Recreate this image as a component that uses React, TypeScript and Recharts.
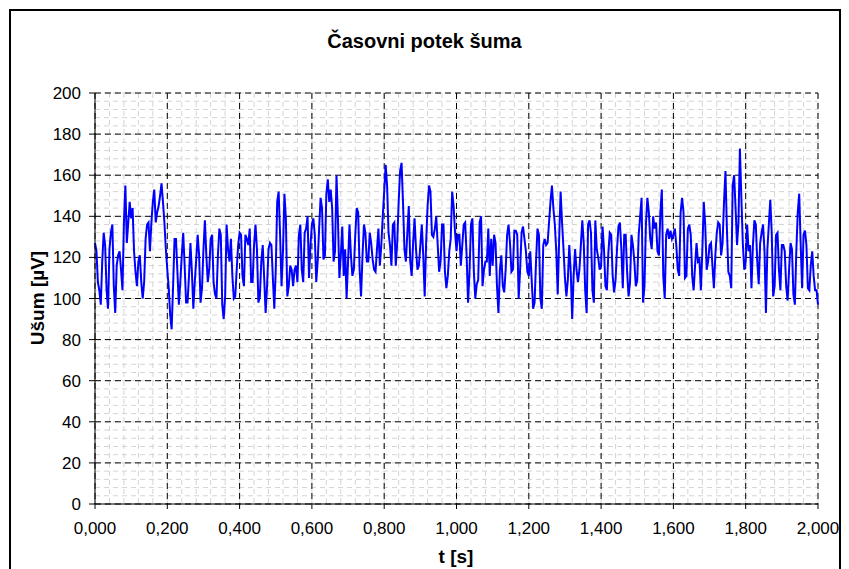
import { LineChart, Line, XAxis, YAxis, CartesianGrid } from 'recharts'

// noise samples in µV, one every SAMPLE_STEP seconds (0 .. 2 s)
const SAMPLE_STEP = 0.004
const NOISE_UV = [
  127, 123, 108, 104, 97, 118, 132, 126, 104, 95, 124, 132, 136, 106, 93, 116, 121, 123, 114, 104, 137, 155, 127, 137, 147, 139, 144, 123,
  113, 106, 118, 121, 108, 100, 108, 129, 136, 137, 123, 137, 147, 153, 137, 142, 145, 150, 156, 147, 137, 124, 114, 105, 92, 85, 106, 129,
  129, 113, 97, 108, 121, 132, 116, 98, 98, 111, 127, 113, 95, 108, 119, 131, 121, 98, 105, 124, 138, 121, 108, 114, 129, 131, 108, 102,
  100, 121, 134, 131, 97, 90, 101, 136, 124, 118, 129, 111, 100, 101, 114, 126, 132, 131, 111, 106, 131, 129, 126, 134, 108, 108, 126, 136,
  124, 98, 101, 118, 126, 110, 93, 106, 124, 127, 126, 110, 95, 114, 147, 152, 131, 106, 123, 151, 139, 101, 106, 116, 114, 106, 114, 116,
  108, 131, 136, 114, 108, 132, 134, 140, 110, 126, 136, 139, 131, 108, 118, 134, 149, 144, 119, 121, 151, 158, 147, 153, 144, 118, 123, 160,
  139, 110, 121, 135, 111, 124, 100, 118, 136, 121, 111, 114, 131, 144, 142, 114, 101, 121, 136, 132, 118, 118, 132, 127, 119, 114, 113, 124,
  134, 116, 126, 140, 152, 165, 155, 132, 126, 116, 136, 137, 116, 127, 147, 162, 166, 147, 124, 118, 132, 145, 118, 111, 127, 139, 124, 114,
  116, 126, 136, 121, 101, 127, 145, 155, 152, 131, 130, 134, 140, 126, 113, 118, 136, 136, 113, 105, 111, 123, 129, 152, 145, 132, 123, 131,
  131, 116, 126, 136, 137, 121, 98, 113, 136, 139, 113, 100, 107, 109, 137, 140, 106, 114, 118, 118, 134, 111, 129, 116, 131, 127, 106, 93,
  114, 121, 106, 103, 114, 131, 136, 127, 113, 114, 133, 133, 131, 100, 114, 132, 135, 129, 123, 113, 111, 123, 109, 95, 98, 118, 134, 131,
  100, 95, 126, 129, 126, 127, 137, 147, 155, 144, 136, 123, 102, 129, 152, 137, 124, 110, 101, 109, 126, 113, 90, 111, 124, 114, 108, 114,
  126, 138, 127, 104, 93, 136, 138, 132, 104, 98, 138, 124, 120, 114, 116, 135, 124, 106, 104, 122, 132, 131, 111, 103, 109, 124, 135, 137,
  124, 105, 131, 131, 113, 101, 108, 131, 126, 118, 106, 109, 131, 140, 149, 98, 106, 136, 149, 142, 129, 124, 140, 134, 137, 123, 121, 142,
  153, 111, 100, 131, 134, 129, 133, 129, 131, 134, 126, 114, 111, 142, 149, 142, 110, 111, 134, 136, 131, 111, 104, 116, 127, 118, 119, 104,
  123, 147, 136, 114, 118, 126, 127, 116, 105, 121, 132, 137, 136, 121, 127, 147, 162, 134, 113, 111, 105, 155, 160, 144, 126, 137, 173, 149,
  127, 114, 118, 136, 123, 126, 105, 126, 138, 136, 118, 107, 127, 132, 136, 123, 93, 124, 136, 148, 132, 101, 106, 131, 132, 114, 104, 126,
  126, 123, 106, 99, 114, 127, 124, 102, 97, 123, 142, 151, 127, 105, 131, 133, 126, 105, 104, 116, 123, 111, 104, 104, 97,
]

const X_TICKS = [0, 0.2, 0.4, 0.6, 0.8, 1.0, 1.2, 1.4, 1.6, 1.8, 2.0]
const X_TICK_LABELS = ['0,000', '0,200', '0,400', '0,600', '0,800', '1,000', '1,200', '1,400', '1,600', '1,800', '2,000']
const Y_TICKS = [0, 20, 40, 60, 80, 100, 120, 140, 160, 180, 200]

const TITLE = 'Časovni potek šuma'
const X_LABEL = 't [s]'
const Y_LABEL = 'Ušum [µV]'

const FONT = 'Arial, "Liberation Sans", sans-serif'

const data = NOISE_UV.map((u, i) => ({ t: +(i * SAMPLE_STEP).toFixed(3), u }))

// minor gridlines: 5 per major step
const xMinor: number[] = []
for (let i = 0; i <= 50; i++) xMinor.push(+(i * 0.04).toFixed(2))
const yMinor: number[] = []
for (let i = 0; i <= 50; i++) yMinor.push(i * 4)

const tickStyle = { fontSize: 17, fill: '#000', fontFamily: FONT }

export default function App() {
  return (
    <div style={{ position: 'absolute', left: 0, top: 0, width: 849, height: 569, overflow: 'hidden', background: '#fff' }}>
      {/* chart area frame */}
      <div
        style={{
          position: 'absolute',
          left: 9,
          top: 9,
          width: 828,
          height: 600,
          border: '2px solid #000',
        }}
      />
      <div
        style={{
          position: 'absolute',
          left: 0,
          width: 849,
          top: 30,
          textAlign: 'center',
          fontFamily: FONT,
          fontWeight: 'bold',
          fontSize: 20,
          color: '#000',
        }}
      >
        {TITLE}
      </div>
      <div
        style={{
          position: 'absolute',
          left: 38,
          top: 298,
          transform: 'translate(-50%, -50%) rotate(-90deg)',
          fontFamily: FONT,
          fontWeight: 'bold',
          fontSize: 19,
          whiteSpace: 'nowrap',
          color: '#000',
        }}
      >
        {Y_LABEL}
      </div>
      <div
        style={{
          position: 'absolute',
          left: 456,
          top: 557,
          transform: 'translate(-50%, -50%)',
          fontFamily: FONT,
          fontWeight: 'bold',
          fontSize: 19,
          whiteSpace: 'nowrap',
          color: '#000',
        }}
      >
        {X_LABEL}
      </div>
      <div style={{ position: 'absolute', left: 0, top: 0 }}>
        <LineChart width={849} height={569} data={data} margin={{ top: 93, right: 31, bottom: 25, left: 0 }}>
          <CartesianGrid
            horizontalValues={yMinor}
            verticalValues={xMinor}
            stroke="#d4d4d4"
            strokeDasharray="5 4"
          />
          <CartesianGrid
            horizontalValues={Y_TICKS}
            verticalValues={X_TICKS}
            stroke="#000"
            strokeDasharray="6 4"
          />
          <XAxis
            dataKey="t"
            type="number"
            domain={[0, 2]}
            ticks={X_TICKS}
            tickFormatter={(v, i) => X_TICK_LABELS[i] ?? String(v)}
            interval={0}
            height={40}
            tickSize={5}
            tickMargin={13}
            tick={tickStyle}
            axisLine={{ stroke: '#000' }}
            tickLine={{ stroke: '#000' }}
          />
          <YAxis
            type="number"
            domain={[0, 200]}
            ticks={Y_TICKS}
            interval={0}
            width={95}
            tickSize={6}
            tickMargin={8}
            tick={tickStyle}
            axisLine={{ stroke: '#000' }}
            tickLine={{ stroke: '#000' }}
          />
          <Line
            dataKey="u"
            type="linear"
            stroke="#0000ff"
            strokeWidth={2}
            dot={false}
            isAnimationActive={false}
          />
        </LineChart>
      </div>
    </div>
  )
}
